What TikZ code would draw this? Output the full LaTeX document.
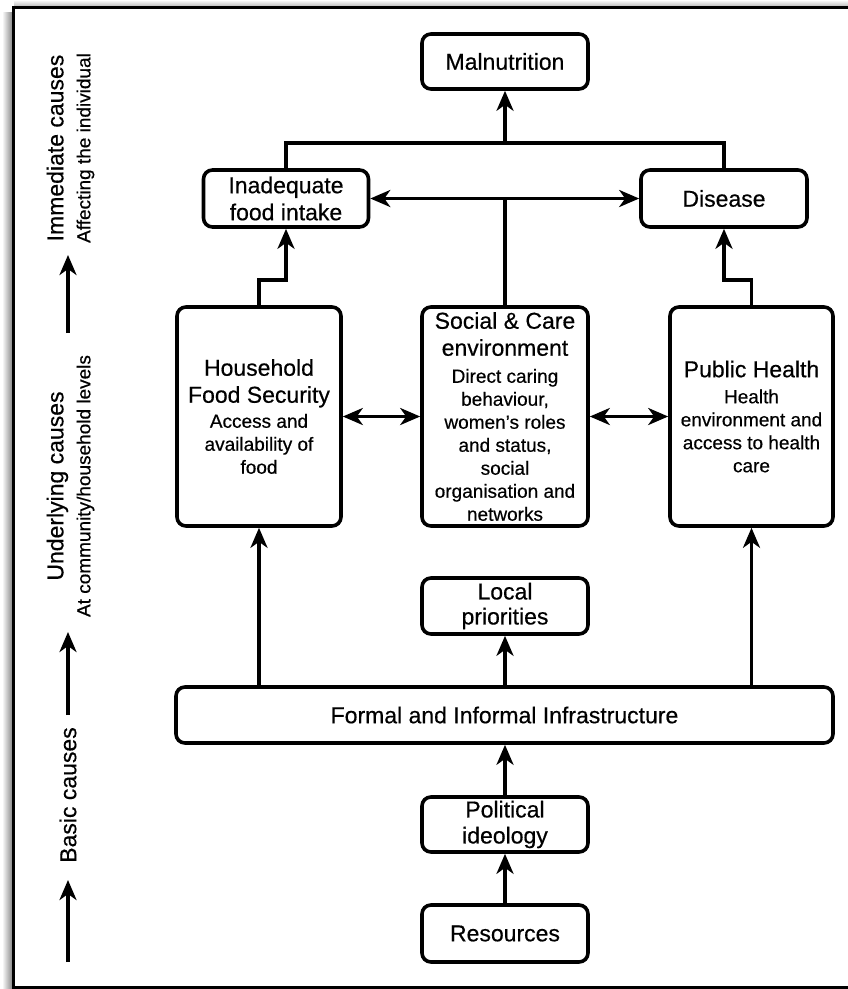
\documentclass[tikz,border=0pt]{standalone}
\usepackage{fontspec}
\setmainfont[FakeBold=0.5]{Liberation Sans}
\usetikzlibrary{arrows.meta,calc}
\newcommand{\bgtxt}{\fontsize{23}{27}\selectfont}
\newcommand{\smtxt}{\fontsize{19}{23}\selectfont}
\begin{document}
\begin{tikzpicture}[x=1pt,y=-1pt,
  box/.style={draw, line width=3.6pt, rounded corners=9pt, align=center, inner sep=0pt, font=\bgtxt},
  tallbox/.style={box, font=\smtxt, minimum height=219pt},
  conn/.style={line width=3.4pt},
  arr/.style={conn, -{Stealth[length=20pt,width=17pt,inset=6pt]}},
  darr/.style={conn, {Stealth[length=20pt,width=17pt,inset=6pt]}-{Stealth[length=20pt,width=17pt,inset=6pt]}},
  lab/.style={rotate=90, align=center, inner sep=0pt, font=\smtxt}]
\useasboundingbox (0,0) rectangle (848,989);
% frame with shadow
\shade[left color=white, right color=black!45] (2,12) rectangle (12,989);
\shade[top color=white, bottom color=black!25] (14,0) rectangle (848,6);
\draw[line width=3pt] (860,7) -- (13,7) -- (13,987) -- (860,987);

% nodes
\node[box, minimum width=166pt, minimum height=55pt] (mal) at (505,61.5) {Malnutrition};
\node[box, minimum width=165pt, minimum height=57pt] (ina) at (286,198.5) {Inadequate\\food intake};
\node[box, minimum width=166pt, minimum height=57pt] (dis) at (724,198.5) {Disease};

\node[tallbox, minimum width=164pt] (hfs) at (259,416.5)
  {{\bgtxt Household}\\[4pt]{\bgtxt Food Security}\\[2pt]Access and\\availability of\\food};
\node[tallbox, minimum width=166pt] (soc) at (505,416.5)
  {{\bgtxt Social \& Care}\\[4pt]{\bgtxt environment}\\[4pt]Direct caring\\behaviour,\\women's roles\\and status,\\social\\organisation and\\networks};
\node[tallbox, minimum width=163pt] (ph) at (751.5,416.5)
  {{\bgtxt Public Health}\\[3pt]Health\\environment and\\access to health\\care};

\node[box, minimum width=166pt, minimum height=56pt] (loc) at (505,606) {Local\\[-2pt]priorities};
\node[box, minimum width=657pt, minimum height=56pt] (form) at (504.5,715) {Formal and Informal Infrastructure};
\node[box, minimum width=166pt, minimum height=55pt] (pol) at (505,824.5) {Political\\[-1pt]ideology};
\node[box, minimum width=166pt, minimum height=57pt] (res) at (505,933.5) {Resources};

% left labels
\node[lab] (l1) at (70.5,148) {{\bgtxt Immediate causes}\\[4pt]Affecting the individual};
\node[lab] (l2) at (70.5,486) {{\bgtxt Underlying causes}\\[4pt]At community/household levels};
\node[lab, font=\bgtxt] (l3) at (68,795) {Basic causes};

\coordinate (a1s) at (68,333); \coordinate (a1e) at (68,255);
\coordinate (a2s) at (68,715); \coordinate (a2e) at (68,632);
\coordinate (a3s) at (68,962); \coordinate (a3e) at (68,880);
\draw[arr] (a1s) -- (a1e);
\draw[arr] (a2s) -- (a2e);
\draw[arr] (a3s) -- (a3e);

% connectors
\coordinate (topj) at (505,143);
\coordinate (stepy) at (0,280);
\draw[conn] (ina.north) |- (topj) -| (dis.north);
\draw[arr] (topj) -- (mal.south);
\draw[darr] (ina.east) -- (dis.west);
\draw[conn] (soc.north) -- (soc.north |- ina.east);
\draw[arr] (hfs.north) -- (hfs.north |- stepy) -| (ina.south);
\draw[arr] (ph.north) -- (ph.north |- stepy) -| (dis.south);
\draw[darr] (hfs.east) -- (soc.west);
\draw[darr] (soc.east) -- (ph.west);
\draw[arr] (form.north -| hfs.south) -- (hfs.south);
\draw[arr] (form.north -| loc.south) -- (loc.south);
\draw[arr] (form.north -| ph.south) -- (ph.south);
\draw[arr] (pol.north) -- (pol.north |- form.south);
\draw[arr] (res.north) -- (res.north |- pol.south);
\end{tikzpicture}
\end{document}
